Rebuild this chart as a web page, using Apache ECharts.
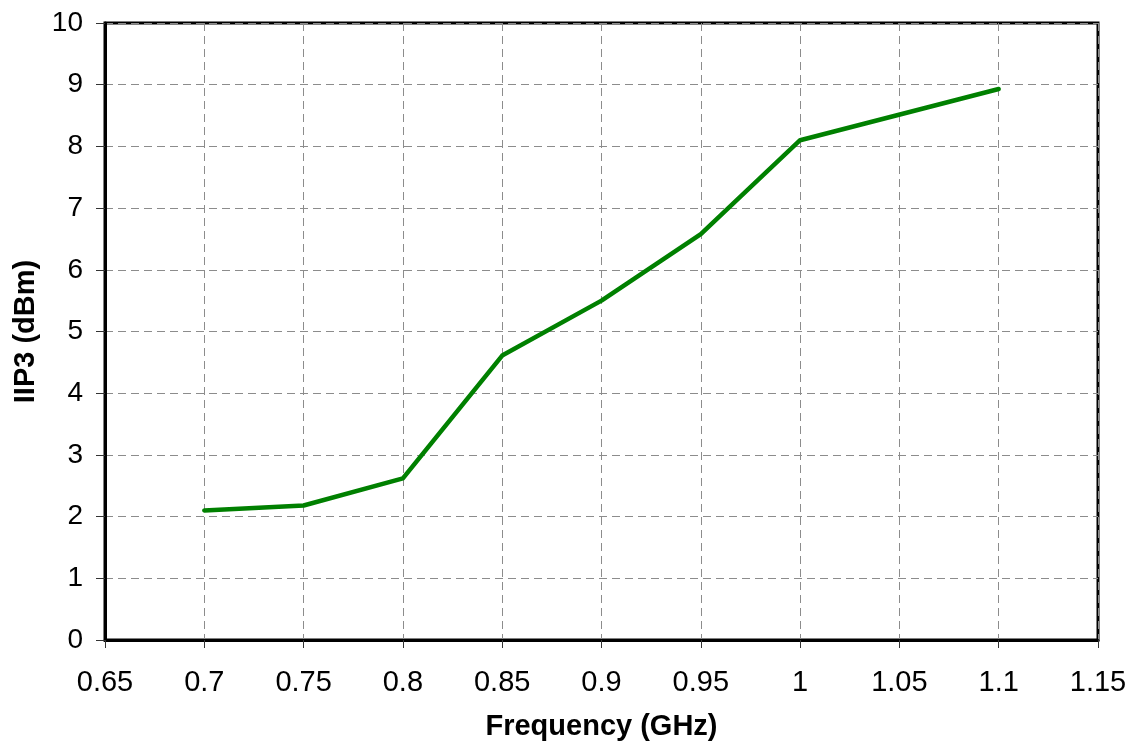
<!DOCTYPE html>
<html>
<head>
<meta charset="utf-8">
<script src="https://cdn.jsdelivr.net/npm/echarts@6/dist/echarts.min.js"></script>
<style>
html,body{margin:0;padding:0;background:#fff;}
#chart{width:1129px;height:742px;}
</style>
</head>
<body>
<div id="chart"></div>
<script>
var frequencies = [0.7, 0.75, 0.8, 0.85, 0.9, 0.95, 1.0, 1.1];
var iip3 = [2.1, 2.18, 2.62, 4.61, 5.5, 6.58, 8.1, 8.93];
var xTitle = 'Frequency (GHz)';
var yTitle = 'IIP3 (dBm)';

var chart = echarts.init(document.getElementById('chart'), null, {renderer: 'canvas'});
var fontFam = '"Liberation Sans", Arial, sans-serif';
var gridLine = {show: true, lineStyle: {color: '#8c8c8c', width: 1, type: [8, 5]}};
chart.setOption({
  animation: false,
  backgroundColor: '#ffffff',
  grid: {left: 105, right: 31, top: 23, bottom: 102, containLabel: false, outerBoundsMode: 'none', show: true, borderColor: '#000', borderWidth: 3, backgroundColor: 'transparent'},
  xAxis: {
    type: 'value', min: 0.65, max: 1.15, interval: 0.05,
    name: xTitle, nameLocation: 'middle', nameGap: 72,
    nameTextStyle: {fontFamily: fontFam, fontSize: 29, fontWeight: 'bold', color: '#000'},
    axisLine: {show: true, onZero: false, lineStyle: {color: '#000', width: 3}},
    axisTick: {show: true, length: 8, lineStyle: {color: '#333', width: 1}},
    axisLabel: {fontFamily: fontFam, fontSize: 29, color: '#000', margin: 28},
    splitLine: gridLine
  },
  yAxis: {
    type: 'value', min: 0, max: 10, interval: 1,
    name: yTitle, nameLocation: 'middle', nameGap: 57, nameRotate: 90,
    nameTextStyle: {fontFamily: fontFam, fontSize: 29, fontWeight: 'bold', color: '#000'},
    axisLine: {show: true, lineStyle: {color: '#000', width: 3}},
    axisTick: {show: true, length: 9, lineStyle: {color: '#333', width: 1}},
    axisLabel: {fontFamily: fontFam, fontSize: 28, color: '#000', margin: 22},
    splitLine: gridLine
  },
  series: [{
    type: 'line',
    data: frequencies.map(function (f, i) { return [f, iip3[i]]; }),
    showSymbol: false,
    symbol: 'none',
    lineStyle: {color: '#008000', width: 4.5, cap: 'round', join: 'round'},
    itemStyle: {color: '#008000'}
  }]
});
</script>
</body>
</html>
